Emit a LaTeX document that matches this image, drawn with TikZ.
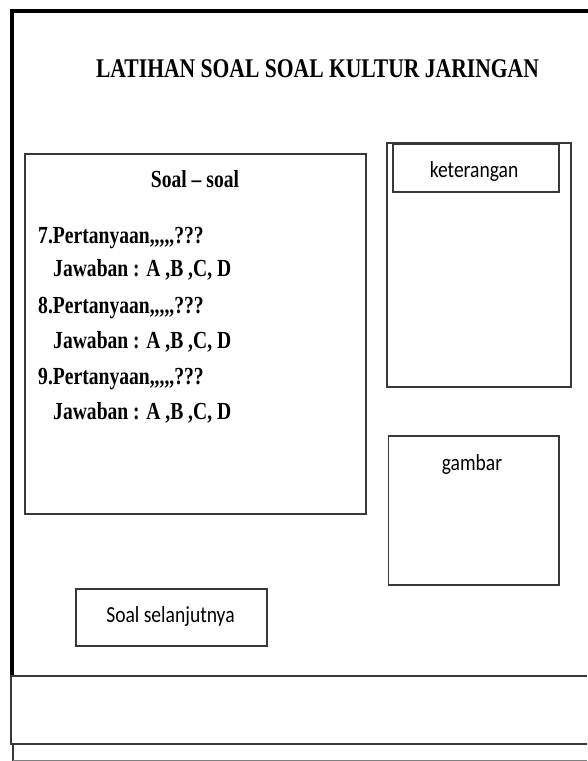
\documentclass[tikz,border=0pt]{standalone}
\usepackage{fontspec}
\newfontfamily\tnrb[FakeStretch=0.8]{Liberation Serif Bold}
\newfontfamily\calfont[FakeStretch=0.85]{Carlito}
\definecolor{edge}{HTML}{383838}
\begin{document}
\begin{tikzpicture}[x=1pt,y=-1pt,
  frame/.style={draw=black,line width=4pt},
  rule/.style={draw=edge,line width=1.8pt},
  panel/.style={draw=edge,line width=1.6pt,rectangle,inner sep=0pt,anchor=north west},
  serifbold/.style={font=\tnrb\fontsize{24.5}{28}\selectfont,inner sep=0pt},
  sans/.style={font=\calfont\fontsize{23}{27}\selectfont,inner sep=0pt,anchor=base}]
\useasboundingbox (0,0) rectangle (587,761);
\fill[white] (0,0) rectangle (587,761);

% window frame and bottom bars
\draw[frame] (12,676) -- (12,10.5) -- (589,10.5);
\draw[rule] (587,676) -- (11,676) -- (11,744) -- (587,744);
\draw[rule] (13,744) -- (13,761);
\draw[draw=gray,line width=1pt] (13,760) -- (587,760);

% title
\node[font=\tnrb\fontsize{27}{31}\selectfont,inner sep=0pt,anchor=base]
  (title) at (317.5,77) {LATIHAN SOAL SOAL KULTUR JARINGAN};

% question panel
\node[panel,minimum width=341pt,minimum height=360pt] (soal) at (24,153) {};
\node[serifbold,anchor=base] (soalhead) at (195,187) {Soal – soal};
\node[serifbold,anchor=base west] (q7) at (38,243) {7.Pertanyaan,,,,,???};
\node[serifbold,anchor=base west] (a7) at (53,276) {Jawaban : A ,B ,C, D};
\node[serifbold,anchor=base west] (q8) at (38,313) {8.Pertanyaan,,,,,???};
\node[serifbold,anchor=base west] (a8) at (53,348) {Jawaban : A ,B ,C, D};
\node[serifbold,anchor=base west] (q9) at (38,384) {9.Pertanyaan,,,,,???};
\node[serifbold,anchor=base west] (a9) at (53,419) {Jawaban : A ,B ,C, D};

% information panel
\node[panel,minimum width=184pt,minimum height=244pt] (info) at (386,142) {};
\node[panel,minimum width=166pt,minimum height=48pt] (infohead) at (392,143) {};
\node[sans] (infotext) at (474,177) {keterangan};

% picture panel
\node[panel,minimum width=170.5pt,minimum height=149pt] (pic) at (387.5,435) {};
\node[sans] (pictext) at (472,470) {gambar};

% next button
\node[panel,minimum width=191pt,minimum height=57pt] (next) at (75,588) {};
\node[sans] (nexttext) at (170.5,622) {Soal selanjutnya};
\end{tikzpicture}
\end{document}
